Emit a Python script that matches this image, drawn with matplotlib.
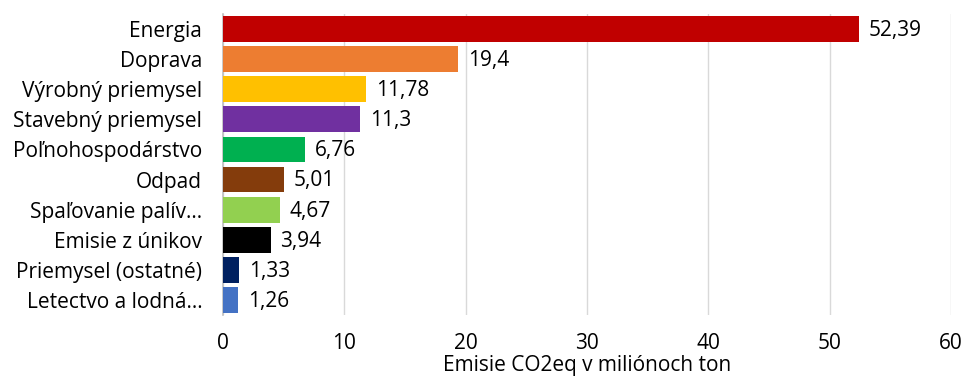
import matplotlib.pyplot as plt

categories = ['Energia', 'Doprava', 'Výrobný priemysel', 'Stavebný priemysel',
              'Poľnohospodárstvo', 'Odpad', 'Spaľovanie palív…', 'Emisie z únikov',
              'Priemysel (ostatné)', 'Letectvo a lodná…']
values = [52.39, 19.4, 11.78, 11.3, 6.76, 5.01, 4.67, 3.94, 1.33, 1.26]
value_labels = ['52,39', '19,4', '11,78', '11,3', '6,76', '5,01', '4,67', '3,94', '1,33', '1,26']
colors = ['#C00000', '#ED7D31', '#FFC000', '#7030A0', '#00B050',
          '#843C0C', '#92D050', '#000000', '#002060', '#4472C4']

plt.rcParams['font.family'] = ['Open Sans', 'DejaVu Sans']
fs = 15

fig = plt.figure(figsize=(9.65, 3.76), dpi=100)
ax = fig.add_axes([223 / 965, 1 - 315 / 376, (951 - 223) / 965, 301 / 376])

ypos = list(range(len(categories)))
ax.barh(ypos, values, height=0.86, color=colors, zorder=3)
ax.set_ylim(len(categories) - 0.5, -0.5)
ax.set_xlim(0, 60)
ax.set_xticks(range(0, 61, 10))
ax.set_yticks(ypos)
ax.set_yticklabels(categories, fontsize=fs)
ax.tick_params(axis='x', length=0, pad=13, labelsize=fs)
ax.tick_params(axis='y', length=0, pad=15)
ax.grid(axis='x', color='#D9D9D9', linewidth=1, zorder=0)
for s in ['top', 'right', 'bottom']:
    ax.spines[s].set_visible(False)
ax.spines['left'].set_color('#BFBFBF')
ax.spines['left'].set_linewidth(1.2)

for y, v, lab in zip(ypos, values, value_labels):
    ax.annotate(lab, (v, y), xytext=(7, -1), textcoords='offset points',
                va='center', ha='left', fontsize=fs)

ax.set_xlabel('Emisie CO2eq v miliónoch ton', fontsize=fs)
ax.xaxis.set_label_coords(0.5, -61 / 301)
ax.xaxis.label.set_va('bottom')

fig.savefig('out.png', dpi=100)
